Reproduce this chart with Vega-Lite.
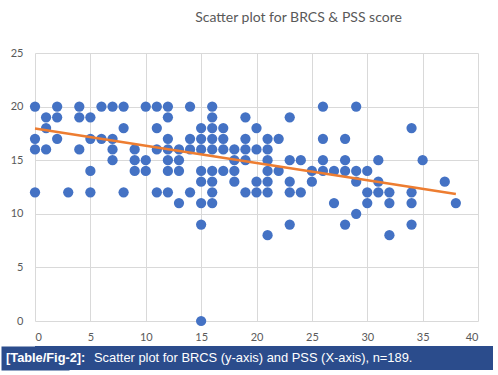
{
  "$schema": "https://vega.github.io/schema/vega-lite/v6.json",
  "background": "white",
  "padding": {"left": 6, "top": 11, "right": 2, "bottom": 2},
  "autosize": {"type": "pad"},
  "spacing": 4,
  "config": {
    "view": {"stroke": null},
    "axis": {"domain": false, "ticks": false, "gridColor": "#d9d9d9", "gridWidth": 1, "labelColor": "#595959", "labelFont": "Lato", "labelFontSize": 11, "title": null}
  },
  "datasets": {
    "scores": [
      {"PSS": 0, "BRCS": 20}, {"PSS": 0, "BRCS": 17}, {"PSS": 0, "BRCS": 16}, {"PSS": 0, "BRCS": 12},
      {"PSS": 1, "BRCS": 19}, {"PSS": 1, "BRCS": 18}, {"PSS": 1, "BRCS": 16},
      {"PSS": 2, "BRCS": 20}, {"PSS": 2, "BRCS": 19}, {"PSS": 2, "BRCS": 17},
      {"PSS": 3, "BRCS": 12},
      {"PSS": 4, "BRCS": 20}, {"PSS": 4, "BRCS": 19}, {"PSS": 4, "BRCS": 16},
      {"PSS": 5, "BRCS": 19}, {"PSS": 5, "BRCS": 17}, {"PSS": 5, "BRCS": 14}, {"PSS": 5, "BRCS": 12},
      {"PSS": 6, "BRCS": 20}, {"PSS": 6, "BRCS": 17},
      {"PSS": 7, "BRCS": 20}, {"PSS": 7, "BRCS": 17}, {"PSS": 7, "BRCS": 16}, {"PSS": 7, "BRCS": 15},
      {"PSS": 8, "BRCS": 20}, {"PSS": 8, "BRCS": 18}, {"PSS": 8, "BRCS": 12},
      {"PSS": 9, "BRCS": 16}, {"PSS": 9, "BRCS": 15}, {"PSS": 9, "BRCS": 14},
      {"PSS": 10, "BRCS": 20}, {"PSS": 10, "BRCS": 15}, {"PSS": 10, "BRCS": 14},
      {"PSS": 11, "BRCS": 20}, {"PSS": 11, "BRCS": 18}, {"PSS": 11, "BRCS": 16}, {"PSS": 11, "BRCS": 12},
      {"PSS": 12, "BRCS": 20}, {"PSS": 12, "BRCS": 19}, {"PSS": 12, "BRCS": 17}, {"PSS": 12, "BRCS": 16}, {"PSS": 12, "BRCS": 15}, {"PSS": 12, "BRCS": 14}, {"PSS": 12, "BRCS": 12},
      {"PSS": 13, "BRCS": 16}, {"PSS": 13, "BRCS": 15}, {"PSS": 13, "BRCS": 14}, {"PSS": 13, "BRCS": 11},
      {"PSS": 14, "BRCS": 20}, {"PSS": 14, "BRCS": 17}, {"PSS": 14, "BRCS": 16}, {"PSS": 14, "BRCS": 12},
      {"PSS": 15, "BRCS": 18}, {"PSS": 15, "BRCS": 17}, {"PSS": 15, "BRCS": 16}, {"PSS": 15, "BRCS": 14}, {"PSS": 15, "BRCS": 13}, {"PSS": 15, "BRCS": 11}, {"PSS": 15, "BRCS": 9}, {"PSS": 15, "BRCS": 0},
      {"PSS": 16, "BRCS": 20}, {"PSS": 16, "BRCS": 19}, {"PSS": 16, "BRCS": 18}, {"PSS": 16, "BRCS": 17}, {"PSS": 16, "BRCS": 16}, {"PSS": 16, "BRCS": 14}, {"PSS": 16, "BRCS": 13}, {"PSS": 16, "BRCS": 12}, {"PSS": 16, "BRCS": 11},
      {"PSS": 17, "BRCS": 18}, {"PSS": 17, "BRCS": 17}, {"PSS": 17, "BRCS": 16}, {"PSS": 17, "BRCS": 14},
      {"PSS": 18, "BRCS": 16}, {"PSS": 18, "BRCS": 15}, {"PSS": 18, "BRCS": 14}, {"PSS": 18, "BRCS": 13},
      {"PSS": 19, "BRCS": 19}, {"PSS": 19, "BRCS": 17}, {"PSS": 19, "BRCS": 16}, {"PSS": 19, "BRCS": 15}, {"PSS": 19, "BRCS": 12},
      {"PSS": 20, "BRCS": 18}, {"PSS": 20, "BRCS": 16}, {"PSS": 20, "BRCS": 13}, {"PSS": 20, "BRCS": 12},
      {"PSS": 21, "BRCS": 17}, {"PSS": 21, "BRCS": 16}, {"PSS": 21, "BRCS": 15}, {"PSS": 21, "BRCS": 14}, {"PSS": 21, "BRCS": 13}, {"PSS": 21, "BRCS": 12}, {"PSS": 21, "BRCS": 8},
      {"PSS": 22, "BRCS": 17}, {"PSS": 22, "BRCS": 14},
      {"PSS": 23, "BRCS": 19}, {"PSS": 23, "BRCS": 15}, {"PSS": 23, "BRCS": 13}, {"PSS": 23, "BRCS": 12}, {"PSS": 23, "BRCS": 9},
      {"PSS": 24, "BRCS": 15}, {"PSS": 24, "BRCS": 12},
      {"PSS": 25, "BRCS": 14}, {"PSS": 25, "BRCS": 13},
      {"PSS": 26, "BRCS": 20}, {"PSS": 26, "BRCS": 17}, {"PSS": 26, "BRCS": 15}, {"PSS": 26, "BRCS": 14},
      {"PSS": 27, "BRCS": 14}, {"PSS": 27, "BRCS": 11},
      {"PSS": 28, "BRCS": 17}, {"PSS": 28, "BRCS": 15}, {"PSS": 28, "BRCS": 14}, {"PSS": 28, "BRCS": 9},
      {"PSS": 29, "BRCS": 20}, {"PSS": 29, "BRCS": 14}, {"PSS": 29, "BRCS": 13}, {"PSS": 29, "BRCS": 10},
      {"PSS": 30, "BRCS": 14}, {"PSS": 30, "BRCS": 12}, {"PSS": 30, "BRCS": 11},
      {"PSS": 31, "BRCS": 15}, {"PSS": 31, "BRCS": 13}, {"PSS": 31, "BRCS": 12},
      {"PSS": 32, "BRCS": 12}, {"PSS": 32, "BRCS": 11}, {"PSS": 32, "BRCS": 8},
      {"PSS": 34, "BRCS": 18}, {"PSS": 34, "BRCS": 12}, {"PSS": 34, "BRCS": 11}, {"PSS": 34, "BRCS": 9},
      {"PSS": 35, "BRCS": 15},
      {"PSS": 37, "BRCS": 13},
      {"PSS": 38, "BRCS": 11}
    ],
    "trend": [
      {"PSS": 0, "BRCS": 17.95},
      {"PSS": 38, "BRCS": 11.85}
    ],
    "caption": [
      {"tag": "[Table/Fig-2]:", "text": "Scatter plot for BRCS (y-axis) and PSS (X-axis), n=189."}
    ]
  },
  "vconcat": [
    {
      "width": 443,
      "height": 268,
      "title": {"text": "Scatter plot for BRCS & PSS score", "dx": 42, "font": "Lato", "fontSize": 14, "fontWeight": "normal", "color": "#595959", "offset": 22},
      "layer": [
        {
          "data": {"name": "scores"},
          "mark": {"type": "circle", "size": 105, "color": "#4472C4", "opacity": 1},
          "encoding": {
            "x": {"field": "PSS", "type": "quantitative", "scale": {"domain": [0, 40], "nice": false}, "axis": {"values": [0, 5, 10, 15, 20, 25, 30, 35, 40], "labelPadding": 10}},
            "y": {"field": "BRCS", "type": "quantitative", "scale": {"domain": [0, 25], "nice": false}, "axis": {"values": [0, 5, 10, 15, 20, 25], "labelPadding": 12}}
          }
        },
        {
          "data": {"name": "trend"},
          "mark": {"type": "line", "color": "#ED7D31", "strokeWidth": 2.5},
          "encoding": {
            "x": {"field": "PSS", "type": "quantitative"},
            "y": {"field": "BRCS", "type": "quantitative"}
          }
        }
      ]
    },
    {
      "width": 458,
      "height": 24,
      "view": {"fill": "#2B4C8C", "stroke": null},
      "data": {"name": "caption"},
      "encoding": {
        "y": {"datum": "caption", "type": "nominal", "axis": {"labels": false, "ticks": false, "grid": false, "domain": true, "domainColor": "#2B4C8C", "domainWidth": 68, "domainCap": "butt", "title": null}}
      },
      "layer": [
        {
          "mark": {"type": "text", "align": "left", "baseline": "middle", "font": "Liberation Sans", "fontSize": 12.8, "fontWeight": "bold", "color": "white"},
          "encoding": {"x": {"value": -29}, "text": {"field": "tag"}}
        },
        {
          "mark": {"type": "text", "align": "left", "baseline": "middle", "font": "Liberation Sans", "fontSize": 12.9, "color": "white"},
          "encoding": {"x": {"value": 59}, "text": {"field": "text"}}
        }
      ]
    }
  ]
}
